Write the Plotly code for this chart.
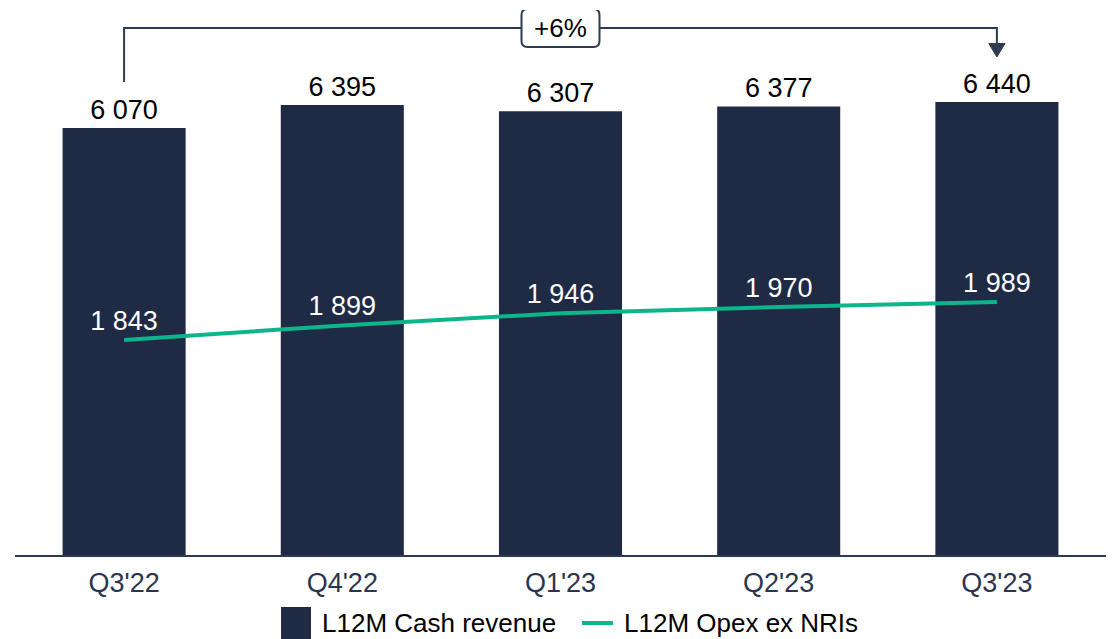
import plotly.graph_objects as go

quarters = ["Q3'22", "Q4'22", "Q1'23", "Q2'23", "Q3'23"]
cash_revenue = [6070, 6395, 6307, 6377, 6440]
opex_ex_nri = [1843, 1899, 1946, 1970, 1989]
growth_label = "+6%"

bar_col = "#1f2a44"
line_col = "#0db58b"
dark = "#2e3a4f"
font = "Arial, Liberation Sans, sans-serif"


def fmt(v):
    return f"{v:,}".replace(",", " ")


fig = go.Figure()

fig.add_trace(go.Bar(
    x=quarters, y=cash_revenue,
    marker_color=bar_col, marker_line_width=0,
    text=[fmt(v) for v in cash_revenue], textposition="outside",
    textfont=dict(size=27, color="black", family=font),
    cliponaxis=False, name="L12M Cash revenue", showlegend=False,
))

fig.add_trace(go.Scatter(
    x=quarters, y=opex_ex_nri, yaxis="y2",
    mode="lines+markers+text", line=dict(color=line_col, width=4),
    marker=dict(size=4, opacity=0),
    text=[fmt(v) for v in opex_ex_nri], textposition="top center",
    textfont=dict(size=27, color="white", family=font),
    name="L12M Opex ex NRIs", showlegend=False,
))

# bracket from first to last bar with growth label
y_top = 7491
fig.add_shape(type="path", xref="x", yref="y",
              path=f"M 0,6724 L 0,{y_top} L 4,{y_top} L 4,7260",
              line=dict(color=dark, width=2))
fig.add_shape(type="path", xref="x", yref="y",
              path="M 3.963,7270 L 4.037,7270 L 4,7079 Z",
              fillcolor=dark, line=dict(color=dark, width=1))
box = ("M -33,-19 L 33,-19 Q 39,-19 39,-13 L 39,13 Q 39,19 33,19 "
       "L -33,19 Q -39,19 -39,13 L -39,-13 Q -39,-19 -33,-19 Z")
fig.add_shape(type="path", xref="x", yref="y", xsizemode="pixel", ysizemode="pixel",
              xanchor=2, yanchor=y_top, path=box,
              fillcolor="white", line=dict(color=dark, width=2))
fig.add_annotation(x=2, y=y_top, xref="x", yref="y", text=growth_label,
                   showarrow=False, font=dict(size=26, color="black", family=font))

# manual legend
def px_x(p):
    return (p - 15) / 1091


def px_y(p):
    return (555 - p) / 545


fig.add_shape(type="rect", xref="paper", yref="paper",
              x0=px_x(281), x1=px_x(311), y0=px_y(645), y1=px_y(607),
              fillcolor=bar_col, line_width=0)
fig.add_annotation(x=px_x(320), y=px_y(623), xref="paper", yref="paper",
                   text="L12M Cash revenue", showarrow=False,
                   xanchor="left", yanchor="middle",
                   font=dict(size=26, color="black", family=font))
fig.add_shape(type="line", xref="paper", yref="paper",
              x0=px_x(582), x1=px_x(613), y0=px_y(623), y1=px_y(623),
              line=dict(color=line_col, width=4))
fig.add_annotation(x=px_x(622), y=px_y(623), xref="paper", yref="paper",
                   text="L12M Opex ex NRIs", showarrow=False,
                   xanchor="left", yanchor="middle",
                   font=dict(size=26, color="black", family=font))

# page body adds an 8px margin, so the figure is shifted by that much
fig.update_layout(
    width=1108, height=631,
    margin=dict(l=7, r=10, t=2, b=84),
    plot_bgcolor="white", paper_bgcolor="white",
    bargap=0.436,
    font=dict(family=font),
    xaxis=dict(showline=True, linecolor=dark, linewidth=1.5, ticks="",
               tickfont=dict(size=27, color="#2a3550"), showgrid=False,
               ticklabelstandoff=3),
    yaxis=dict(range=[0, 7747], visible=False, showgrid=False),
    yaxis2=dict(range=[1017, 3111], overlaying="y", visible=False, showgrid=False),
)

fig.write_html("out.html")
